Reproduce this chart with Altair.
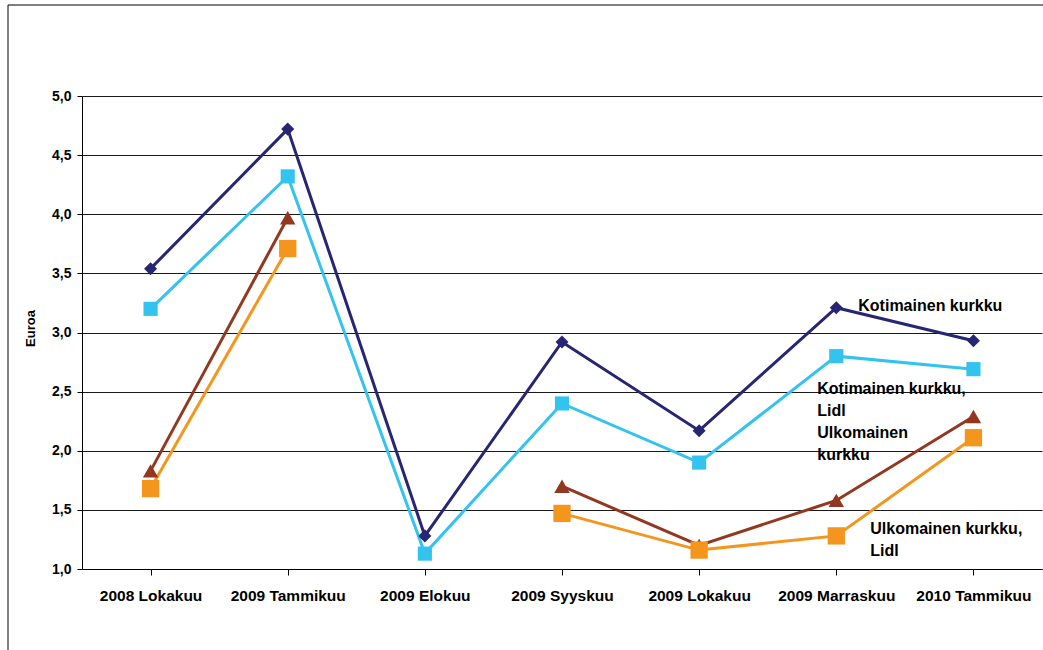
import altair as alt
import pandas as pd

# Monthly cucumber prices (euros per kg)
months = ["2008 Lokakuu", "2009 Tammikuu", "2009 Elokuu", "2009 Syyskuu",
          "2009 Lokakuu", "2009 Marraskuu", "2010 Tammikuu"]
kotimainen = [3.54, 4.72, 1.28, 2.92, 2.17, 3.21, 2.93]
kotimainen_lidl = [3.20, 4.32, 1.13, 2.40, 1.90, 2.80, 2.69]
ulkomainen = [1.83, 3.97, None, 1.70, 1.20, 1.58, 2.29]
ulkomainen_lidl = [1.68, 3.71, None, 1.47, 1.16, 1.28, 2.11]

series_names = ["Kotimainen kurkku", "Kotimainen kurkku, Lidl",
                "Ulkomainen kurkku", "Ulkomainen kurkku, Lidl"]
series_values = [kotimainen, kotimainen_lidl, ulkomainen, ulkomainen_lidl]
series_colors = ["#262673", "#33C3EF", "#923820", "#F4961E"]
series_shapes = ["diamond", "square", "triangle-up", "square"]
series_sizes = [170, 200, 240, 300]

# Series labels placed beside the right end of the lines
label_texts = [["Kotimainen kurkku"], ["Kotimainen kurkku,", "Lidl"],
               ["Ulkomainen", "kurkku"], ["Ulkomainen kurkku,", "Lidl"]]
label_values = [3.29, 2.594, 2.214, 1.406]
label_dx = [22, -19, -19, 34]

rows = []
for name, vals in zip(series_names, series_values):
    seg = 0
    for m, v in zip(months, vals):
        if v is None:
            seg += 1  # a missing month breaks the line
            continue
        rows.append({"kuukausi": m, "hinta": v, "sarja": name, "osa": f"{name}-{seg}"})
df = pd.DataFrame(rows)

x_enc = alt.X("kuukausi:N", sort=months, title=None,
              scale=alt.Scale(paddingInner=0, paddingOuter=0),
              axis=alt.Axis(labelAngle=0, bandPosition=0, tickSize=6,
                            labelPadding=13, domainColor="#000", tickColor="#000",
                            labelFont="Liberation Sans",
                            labelFontWeight="bold", labelFontSize=15.5,
                            labelColor="#000", grid=False))
y_enc = alt.Y("hinta:Q", title="Euroa",
              scale=alt.Scale(domain=[1.0, 5.0], nice=False, zero=False),
              axis=alt.Axis(values=[1.0, 1.5, 2.0, 2.5, 3.0, 3.5, 4.0, 4.5, 5.0],
                            labelExpr="replace(format(datum.value, '.1f'), '.', ',')",
                            tickSize=5, domainColor="#000", tickColor="#000",
                            gridColor="#1a1a1a", gridWidth=1, gridOpacity=1,
                            labelFont="Liberation Sans", labelFontWeight="bold",
                            labelFontSize=14, labelColor="#000", labelPadding=6,
                            titleFont="Liberation Sans", titleFontWeight="bold",
                            titleFontSize=13, titleColor="#000",
                            titleX=-45, titleY=232, titleAngle=270))

color_scale = alt.Scale(domain=series_names, range=series_colors)

lines = alt.Chart(df).mark_line(strokeWidth=3).encode(
    x=x_enc, y=y_enc,
    color=alt.Color("sarja:N", scale=color_scale, legend=None),
    detail="osa:N",
)

layers = [lines]
for name, color, shape, size in zip(series_names, series_colors, series_shapes, series_sizes):
    layers.append(
        alt.Chart(df[df["sarja"] == name]).mark_point(
            shape=shape, filled=True, opacity=1, size=size, color=color
        ).encode(x=x_enc, y=y_enc)
    )

labels_df = pd.DataFrame({
    "kuukausi": ["2009 Marraskuu"] * 4,
    "hinta": label_values,
    "teksti": label_texts,
    "dx": label_dx,
})
for i in range(4):
    layers.append(
        alt.Chart(labels_df.iloc[[i]]).mark_text(
            align="left", baseline="top", dx=label_dx[i], lineHeight=22,
            font="Liberation Sans", fontWeight="bold", fontSize=16, color="#000"
        ).encode(x=x_enc, y=y_enc, text="teksti:N")
    )

# Outer chart frame (left and top edges)
frame_left = alt.Chart(labels_df.iloc[[0]]).mark_rule(color="#000", strokeWidth=1).encode(
    x=alt.value(-74), y=alt.value(-91), y2=alt.value(560))
frame_top = alt.Chart(labels_df.iloc[[0]]).mark_rule(color="#000", strokeWidth=1).encode(
    x=alt.value(-74), x2=alt.value(970), y=alt.value(-91))
layers += [frame_left, frame_top]

chart = alt.layer(*layers).properties(
    width=960, height=473,
    padding={"left": 82, "top": 96, "right": 1, "bottom": 81},
    autosize=alt.AutoSizeParams(type="none"),
    background="white",
).configure_view(stroke=None)

chart.save("out.html", embed_options={"renderer": "svg", "actions": False})
